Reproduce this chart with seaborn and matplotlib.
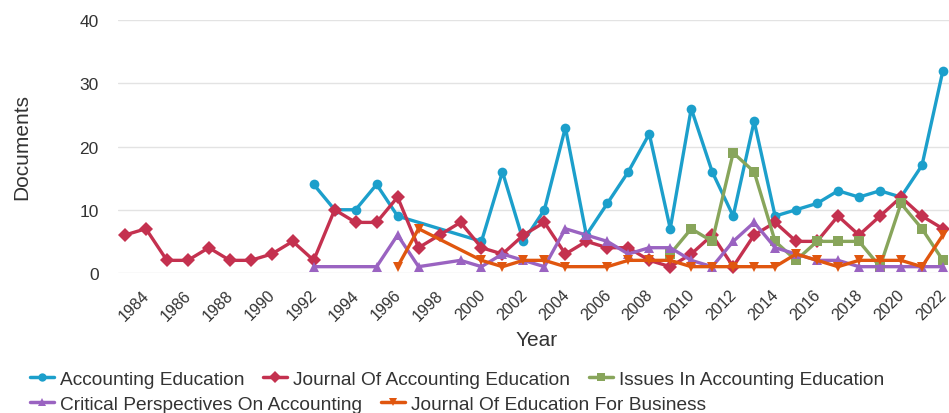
import numpy as np
import pandas as pd
import seaborn as sns
import matplotlib.pyplot as plt
import matplotlib.transforms as mtransforms
from matplotlib.lines import Line2D

years = list(range(1983, 2023))

accounting_education = [None] * 9 + [14, 10, 10, 14, 9, None, None, None, 5, 16, 5, 10, 23, 6,
                                     11, 16, 22, 7, 26, 16, 9, 24, 9, 10, 11, 13, 12, 13, 12, 17, 32]
journal_of_accounting_education = [6, 7, 2, 2, 4, 2, 2, 3, 5, 2, 10, 8, 8, 12, 4, 6, 8, 4, 3, 6,
                                   8, 3, 5, 4, 4, 2, 1, 3, 6, 1, 6, 8, 5, 5, 9, 6, 9, 12, 9, 7]
issues_in_accounting_education = [None] * 26 + [3, 7, 5, 19, 16, 5, 2, 5, 5, 5, 1, 11, 7, 2]
critical_perspectives = [None] * 9 + [1, None, None, 1, 6, 1, None, 2, 1, 3, 2, 1, 7, 6, 5, 3,
                                      4, 4, 2, 1, 5, 8, 4, 3, 2, 2, 1, 1, 1, 1, 1]
journal_of_education_for_business = [None] * 13 + [1, 7, None, None, 2, 1, 2, 2, 1, None, 1, 2,
                                                   2, 2, 1, 1, 1, 1, 1, 3, 2, 1, 2, 2, 2, 1, 6]

sources = ["Accounting Education", "Journal Of Accounting Education",
           "Issues In Accounting Education", "Critical Perspectives On Accounting",
           "Journal Of Education For Business"]
series = [accounting_education, journal_of_accounting_education,
          issues_in_accounting_education, critical_perspectives,
          journal_of_education_for_business]
colors = ["#1c9fcb", "#c4314f", "#88a55b", "#9a63c1", "#e0560f"]
markers = ["o", "D", "s", "^", "v"]

rows = []
for name, vals in zip(sources, series):
    for y, v in zip(years, vals):
        if v is not None:
            rows.append({"Year": y, "Documents": v, "Source": name})
df = pd.DataFrame(rows)

sns.set_style("white")
plt.rcParams["font.family"] = ["Liberation Sans", "DejaVu Sans"]
text_col = "#333333"

fig = plt.figure(figsize=(9.49, 4.14), dpi=100)
ax = fig.add_axes([118 / 949, 1 - 274 / 414, 831 / 949, 253 / 414])

sns.lineplot(
    data=df, x="Year", y="Documents", hue="Source", style="Source",
    hue_order=sources, style_order=sources,
    palette=dict(zip(sources, colors)), markers=dict(zip(sources, markers)),
    dashes=False, linewidth=2.4, markersize=7, markeredgewidth=0,
    errorbar=None, legend=False, ax=ax
)

ax.set_ylim(0, 40)
ax.set_xlim(1982.67, 2022.29)
ax.set_yticks([0, 10, 20, 30, 40])
ax.set_xticks(range(1984, 2023, 2))
ax.grid(axis="y", color="#e3e3e3", linewidth=1)
ax.grid(axis="x", visible=False)
for s in ax.spines.values():
    s.set_visible(False)
ax.set_axisbelow(True)

ax.tick_params(axis="y", length=0, pad=14, labelsize=12.5, labelcolor=text_col)
ax.tick_params(axis="x", length=0, pad=10, labelsize=11.5, labelcolor=text_col)
shift = mtransforms.ScaledTranslation(-4 / 100, 0, fig.dpi_scale_trans)
for lab in ax.get_xticklabels():
    lab.set_rotation(45)
    lab.set_ha("right")
    lab.set_va("top")
    lab.set_rotation_mode("anchor")
    lab.set_transform(lab.get_transform() + shift)

ax.set_xlabel("Year", fontsize=15, color=text_col)
ax.set_ylabel("Documents", fontsize=15, color=text_col)
ax.xaxis.set_label_coords(0.504, -0.225)
ax.yaxis.set_label_coords(-0.104, 0.5)

handles = [Line2D([], [], color=c, marker=m, lw=2.5, ms=6, markeredgewidth=0)
           for c, m in zip(colors, markers)]
common = dict(frameon=False, fontsize=13.8, handlelength=1.25, handletextpad=0.3,
              columnspacing=1.0, borderpad=0, borderaxespad=0, labelcolor=text_col)
leg1 = fig.legend(handles[:3], sources[:3], loc="center left",
                  bbox_to_anchor=(30 / 949, 1 - 380 / 414), ncol=3, **common)
leg2 = fig.legend(handles[3:], sources[3:], loc="center left",
                  bbox_to_anchor=(30 / 949, 1 - 405 / 414), ncol=2, **common)

fig.savefig("out.png", dpi=100)
